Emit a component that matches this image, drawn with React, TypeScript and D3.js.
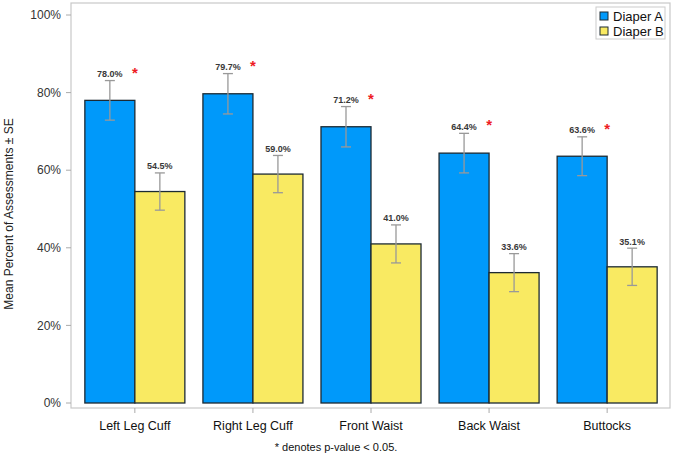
import { useMemo } from "react";
import * as d3 from "d3";

const WIDTH = 674;
const HEIGHT = 457;
const FONT = "'Liberation Sans', Arial, sans-serif";

const categories = ["Left Leg Cuff", "Right Leg Cuff", "Front Waist", "Back Waist", "Buttocks"];
const series = ["Diaper A", "Diaper B"];
const diaperA = [78.0, 79.7, 71.2, 64.4, 63.6];
const diaperB = [54.5, 59.0, 41.0, 33.6, 35.1];
const seA = [5.1, 5.2, 5.2, 5.1, 5.0];
const seB = [4.8, 4.8, 4.9, 4.9, 4.8];
const significant = [true, true, true, true, true];
const yTicks = [0, 20, 40, 60, 80, 100];

const COLORS = ["#0099fa", "#f9ea62"];

const FRAME = { left: 71, top: 3, right: 670, bottom: 408 };

function App() {
  const x = useMemo(
    () => d3.scaleBand<string>().domain(categories).range([76, 666]).paddingInner(0.153).paddingOuter(0.075),
    []
  );
  const x1 = useMemo(
    () => d3.scaleBand<string>().domain(series).range([0, x.bandwidth()]),
    [x]
  );
  const y = useMemo(() => d3.scaleLinear().domain([0, 100]).range([403, 15]), []);

  const groups = categories.map((c, i) => ({
    cat: c,
    bars: [
      { s: series[0], v: diaperA[i], se: seA[i] },
      { s: series[1], v: diaperB[i], se: seB[i] },
    ],
    sig: significant[i],
  }));

  return (
    <div style={{ position: "absolute", left: 0, top: 0 }}>
      <svg width={WIDTH} height={HEIGHT} style={{ display: "block", fontFamily: FONT }}>
        <rect x={0} y={0} width={WIDTH} height={HEIGHT} fill="#fff" />
        {/* frame */}
        <rect
          x={FRAME.left}
          y={FRAME.top}
          width={FRAME.right - FRAME.left}
          height={FRAME.bottom - FRAME.top}
          fill="none"
          stroke="#c8c8c8"
          strokeWidth={1.2}
        />

        {/* y axis */}
        {yTicks.map((t) => (
          <g key={t} transform={`translate(0,${y(t)})`}>
            <line x1={FRAME.left - 5} x2={FRAME.left} stroke="#aaa" />
            <text x={61} dy="0.35em" textAnchor="end" fontSize={12} fill="#333">
              {t}%
            </text>
          </g>
        ))}
        <text
          transform={`translate(13,${(y(0) + y(100)) / 2 + 5}) rotate(-90)`}
          textAnchor="middle"
          fontSize={12}
          fill="#222"
        >
          Mean Percent of Assessments ± SE
        </text>

        {/* bars */}
        {groups.map((g) => {
          const gx = x(g.cat) ?? 0;
          return (
            <g key={g.cat} transform={`translate(${gx},0)`}>
              {g.bars.map((b, j) => {
                const bx = x1(b.s) ?? 0;
                const w = x1.bandwidth();
                const cx = bx + w / 2;
                const top = y(b.v + b.se);
                const bot = y(b.v - b.se);
                return (
                  <g key={b.s}>
                    <rect
                      x={bx}
                      y={y(b.v)}
                      width={w}
                      height={y(0) - y(b.v)}
                      fill={COLORS[j]}
                      stroke="#1c2a33"
                      strokeWidth={1.3}
                    />
                    <line x1={cx} x2={cx} y1={top} y2={bot} stroke="#999" strokeWidth={1.3} />
                    <line x1={cx - 5} x2={cx + 5} y1={top} y2={top} stroke="#999" strokeWidth={1.3} />
                    <line x1={cx - 5} x2={cx + 5} y1={bot} y2={bot} stroke="#999" strokeWidth={1.3} />
                    <text
                      x={cx}
                      y={top - 3.5}
                      textAnchor="middle"
                      fontSize={9}
                      fontWeight="bold"
                      fill="#383838"
                    >
                      {b.v.toFixed(1)}%
                    </text>
                    {j === 0 && g.sig && (
                      <text
                        x={bx + w}
                        y={top - 3}
                        textAnchor="middle"
                        fontSize={15}
                        fontWeight="bold"
                        fill="#ee1c24"
                      >
                        *
                      </text>
                    )}
                  </g>
                );
              })}
            </g>
          );
        })}

        {/* x axis */}
        {categories.map((c) => {
          const cx = (x(c) ?? 0) + x.bandwidth() / 2;
          return (
            <g key={c} transform={`translate(${cx},0)`}>
              <line y1={FRAME.bottom} y2={FRAME.bottom + 5} stroke="#aaa" />
              <text y={430} textAnchor="middle" fontSize={12.5} fill="#111">
                {c}
              </text>
            </g>
          );
        })}
        <text x={336} y={451} textAnchor="middle" fontSize={11} fill="#111">
          * denotes p-value &lt; 0.05.
        </text>

        {/* legend */}
        <rect x={596} y={7} width={69} height={32} fill="#fff" stroke="#ccc" />
        {series.map((s, i) => (
          <g key={s} transform={`translate(600,${12 + i * 15})`}>
            <rect width={8} height={8} fill={COLORS[i]} stroke="#1c2a33" strokeWidth={1} />
            <text x={13} y={8.5} fontSize={13} fill="#111">
              {s}
            </text>
          </g>
        ))}
      </svg>
    </div>
  );
}

export default App;
